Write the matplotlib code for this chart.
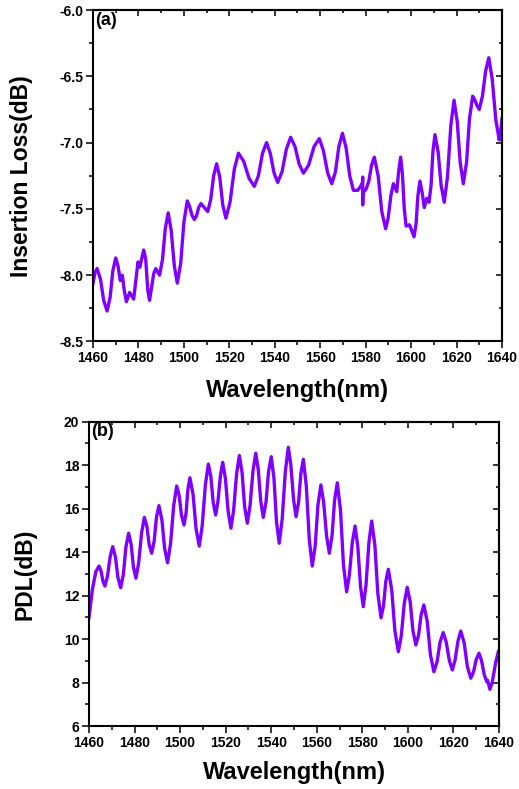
import matplotlib
matplotlib.use("Agg")
import matplotlib.pyplot as plt
from matplotlib.ticker import MultipleLocator

# (a) insertion loss vs wavelength
wl_a = [1460.0, 1460.9, 1461.8, 1463.3, 1464.7, 1466.2, 1467.5, 1468.7, 1470.0, 1471.0,
        1472.0, 1472.9, 1473.8, 1474.7, 1476.1, 1477.9, 1478.9, 1479.8, 1480.6, 1482.3,
        1483.2, 1484.1, 1484.9, 1485.8, 1486.7, 1487.6, 1489.3, 1490.6, 1491.8, 1493.1,
        1494.4, 1495.8, 1497.1, 1498.6, 1500.0, 1501.5, 1502.5, 1503.6, 1504.6, 1505.6,
        1506.5, 1507.5, 1508.5, 1509.5, 1510.5, 1511.8, 1513.1, 1514.4, 1515.8, 1517.1,
        1518.5, 1520.3, 1522.2, 1524.0, 1526.3, 1528.7, 1531.0, 1532.8, 1534.6, 1536.4,
        1538.0, 1539.7, 1541.3, 1543.2, 1545.1, 1547.0, 1548.9, 1550.7, 1552.6, 1554.9,
        1557.3, 1559.6, 1561.4, 1563.3, 1565.1, 1566.7, 1568.2, 1569.8, 1571.4, 1573.0,
        1574.6, 1576.5, 1577.8, 1578.6, 1578.7, 1578.7, 1578.8, 1580.2, 1581.4, 1582.6,
        1583.8, 1585.5, 1587.1, 1588.8, 1589.9, 1591.1, 1592.2, 1593.7, 1594.5, 1595.4,
        1596.2, 1597.0, 1597.8, 1599.3, 1601.3, 1602.2, 1603.0, 1603.9, 1604.9, 1605.8,
        1606.9, 1607.9, 1608.8, 1609.6, 1610.5, 1611.9, 1613.2, 1614.6, 1616.0, 1617.5,
        1618.9, 1620.3, 1621.6, 1623.0, 1624.4, 1625.7, 1627.1, 1628.1, 1629.0, 1630.0,
        1631.4, 1632.8, 1634.2, 1635.7, 1637.3, 1638.8, 1639.4, 1640.0]
il_a = [-8.06, -7.98, -7.95, -8.03, -8.19, -8.27, -8.17, -7.97, -7.87, -7.93,
        -8.04, -8.00, -8.12, -8.20, -8.13, -8.18, -8.03, -7.90, -7.94, -7.81,
        -7.88, -8.11, -8.19, -8.09, -7.99, -7.95, -8.00, -7.88, -7.65, -7.53,
        -7.66, -7.93, -8.06, -7.91, -7.60, -7.44, -7.48, -7.55, -7.58, -7.55,
        -7.49, -7.46, -7.48, -7.50, -7.52, -7.43, -7.25, -7.16, -7.26, -7.47,
        -7.57, -7.45, -7.20, -7.08, -7.14, -7.27, -7.33, -7.25, -7.08, -7.00,
        -7.08, -7.23, -7.30, -7.22, -7.05, -6.96, -7.03, -7.16, -7.23, -7.17,
        -7.03, -6.97, -7.06, -7.23, -7.31, -7.22, -7.03, -6.93, -7.04, -7.25,
        -7.36, -7.36, -7.33, -7.30, -7.26, -7.47, -7.38, -7.35, -7.29, -7.17,
        -7.11, -7.25, -7.52, -7.65, -7.57, -7.40, -7.31, -7.37, -7.22, -7.11,
        -7.24, -7.50, -7.63, -7.62, -7.71, -7.61, -7.40, -7.29, -7.38, -7.49,
        -7.42, -7.45, -7.32, -7.07, -6.94, -7.07, -7.32, -7.45, -7.26, -6.87,
        -6.68, -6.84, -7.15, -7.31, -7.15, -6.82, -6.65, -6.68, -6.72, -6.75,
        -6.65, -6.46, -6.36, -6.52, -6.83, -6.98, -6.92, -6.82]

# (b) PDL vs wavelength
wl_b = [1460.0, 1461.5, 1463.0, 1464.4, 1465.3, 1466.1, 1467.0, 1468.1, 1469.3, 1470.4,
        1471.6, 1472.7, 1473.9, 1475.1, 1476.2, 1477.4, 1478.5, 1479.5, 1480.6, 1481.8,
        1483.1, 1484.3, 1485.4, 1486.4, 1487.5, 1488.6, 1489.6, 1490.7, 1492.0, 1493.2,
        1494.5, 1495.8, 1497.2, 1498.5, 1499.6, 1500.6, 1501.7, 1502.6, 1503.4, 1504.3,
        1505.7, 1507.0, 1508.4, 1509.7, 1511.1, 1512.4, 1513.5, 1514.5, 1515.6, 1516.6,
        1517.7, 1518.7, 1519.9, 1521.1, 1522.3, 1523.5, 1524.8, 1526.0, 1527.2, 1528.3,
        1529.5, 1530.7, 1532.0, 1533.2, 1534.3, 1535.4, 1536.5, 1537.7, 1538.8, 1540.0,
        1541.2, 1542.3, 1543.5, 1544.8, 1546.2, 1547.5, 1548.6, 1549.8, 1550.9, 1552.0,
        1553.0, 1554.1, 1555.4, 1556.7, 1558.0, 1559.3, 1560.5, 1561.8, 1563.0, 1564.3,
        1565.5, 1566.7, 1567.8, 1569.0, 1570.4, 1571.7, 1573.1, 1574.3, 1575.6, 1576.8,
        1578.0, 1579.2, 1580.4, 1581.6, 1582.9, 1584.1, 1585.5, 1586.8, 1588.2, 1589.3,
        1590.3, 1591.4, 1592.9, 1594.3, 1595.8, 1597.1, 1598.4, 1599.7, 1601.0, 1602.2,
        1603.5, 1604.7, 1605.8, 1607.0, 1608.5, 1609.9, 1611.4, 1612.8, 1614.1, 1615.5,
        1616.8, 1618.2, 1619.5, 1620.7, 1622.0, 1623.2, 1624.7, 1626.1, 1627.6, 1628.8,
        1630.0, 1631.2, 1632.3, 1633.5, 1634.6, 1635.0, 1636.0, 1637.0, 1638.5, 1639.7]
pdl_b = [11.00, 12.30, 13.10, 13.36, 13.13, 12.67, 12.44, 12.89, 13.80, 14.25,
         13.78, 12.83, 12.36, 12.99, 14.24, 14.87, 14.35, 13.32, 12.80, 13.50,
         14.90, 15.60, 15.19, 14.36, 13.95, 14.50, 15.59, 16.14, 15.48, 14.17,
         13.51, 14.39, 16.16, 17.04, 16.59, 15.70, 15.25, 15.79, 16.88, 17.42,
         16.64, 15.07, 14.28, 15.22, 17.11, 18.05, 17.47, 16.30, 15.71, 16.32,
         17.53, 18.13, 17.37, 15.86, 15.10, 15.94, 17.61, 18.44, 17.66, 16.11,
         15.33, 16.14, 17.75, 18.55, 17.81, 16.34, 15.60, 16.30, 17.69, 18.39,
         17.40, 15.41, 14.41, 15.51, 17.72, 18.82, 18.02, 16.43, 15.63, 16.29,
         17.61, 18.27, 17.04, 14.59, 13.36, 14.29, 16.16, 17.09, 16.31, 14.74,
         13.95, 14.76, 16.38, 17.19, 15.94, 13.43, 12.18, 12.94, 14.45, 15.20,
         14.27, 12.42, 11.49, 12.48, 14.45, 15.43, 14.32, 12.09, 10.98, 11.54,
         12.65, 13.21, 12.26, 10.37, 9.42, 10.16, 11.64, 12.38, 11.72, 10.39,
         9.73, 10.19, 11.11, 11.57, 10.80, 9.27, 8.50, 8.95, 9.85, 10.30,
         9.87, 9.01, 8.58, 9.03, 9.92, 10.37, 9.83, 8.74, 8.20, 8.49,
         9.06, 9.35, 9.02, 8.37, 8.04, 8.10, 7.69, 8.00, 8.90, 9.42]

plt.rcParams["font.family"] = ["Liberation Sans", "DejaVu Sans"]
plt.rcParams["font.weight"] = "bold"

COLOR = "#8000ff"

fig = plt.figure(figsize=(5.19, 7.89), dpi=100)
ax1 = fig.add_axes([0.1792, 0.5672, 0.788, 0.4201])
ax2 = fig.add_axes([0.1715, 0.0798, 0.790, 0.3857])


def style(ax, ylabel, ymajor, yminor, tag):
    ax.set_xlim(1460, 1640)
    ax.xaxis.set_major_locator(MultipleLocator(20))
    ax.xaxis.set_minor_locator(MultipleLocator(10))
    ax.yaxis.set_major_locator(MultipleLocator(ymajor))
    ax.yaxis.set_minor_locator(MultipleLocator(yminor))
    for s in ax.spines.values():
        s.set_linewidth(1.5)
    ax.tick_params(which="both", direction="out", width=1.1, labelsize=10, pad=2)
    ax.tick_params(which="major", length=5)
    ax.tick_params(which="minor", length=2.8)
    for lab in ax.get_xticklabels() + ax.get_yticklabels():
        lab.set_fontweight("bold")
    ax.set_xlabel("Wavelength(nm)", fontsize=17, fontweight="bold")
    ax.set_ylabel(ylabel, fontsize=16.5, fontweight="bold")
    ax.text(0.006, 0.995, tag, transform=ax.transAxes, ha="left", va="top",
            fontsize=13, fontweight="bold")
    # mirrored ticks on top / right, no labels
    tw = ax.secondary_xaxis("top")
    tw.xaxis.set_major_locator(MultipleLocator(20))
    tw.xaxis.set_minor_locator(MultipleLocator(10))
    tw.tick_params(which="both", direction="in", width=1.1, labeltop=False)
    tw.tick_params(which="major", length=4)
    tw.tick_params(which="minor", length=2.5)
    tw.spines["top"].set_linewidth(1.5)
    rw = ax.secondary_yaxis("right")
    rw.yaxis.set_major_locator(MultipleLocator(ymajor))
    rw.yaxis.set_minor_locator(MultipleLocator(yminor))
    rw.tick_params(which="both", direction="in", width=1.1, labelright=False)
    rw.tick_params(which="major", length=4)
    rw.tick_params(which="minor", length=2.5)
    rw.spines["right"].set_linewidth(1.5)


ax1.plot(wl_a, il_a, color=COLOR, lw=2.4, solid_joinstyle="round")
ax1.set_ylim(-8.5, -6.0)
style(ax1, "Insertion Loss(dB)", 0.5, 0.25, "(a)")
ax1.yaxis.set_major_formatter(plt.FormatStrFormatter("%.1f"))
ax1.xaxis.set_label_coords(0.5, -0.112)
ax1.yaxis.set_label_coords(-0.147, 0.5)

ax2.plot(wl_b, pdl_b, color=COLOR, lw=2.4, solid_joinstyle="round")
ax2.set_ylim(6, 20)
style(ax2, "PDL(dB)", 2, 1, "(b)")
ax2.xaxis.set_label_coords(0.5, -0.115)
ax2.yaxis.set_label_coords(-0.127, 0.5)

fig.savefig("out.png", dpi=100)
